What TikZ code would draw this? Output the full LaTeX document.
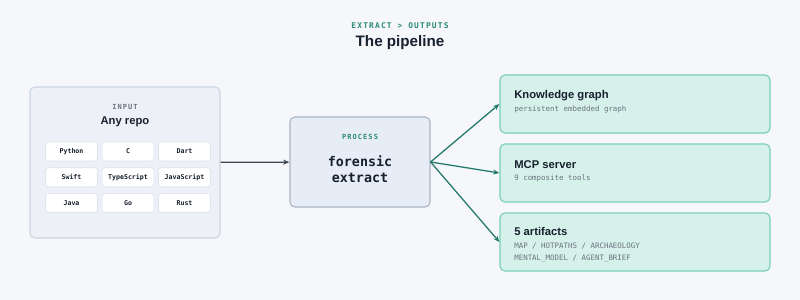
\documentclass[tikz,border=0pt]{standalone}
\usepackage{fontspec}
\setmainfont{Liberation Sans}
\setmonofont{DejaVu Sans Mono}
\newfontfamily\spacedmono[LetterSpace=15]{DejaVu Sans Mono}
\usetikzlibrary{arrows.meta}
\definecolor{PipeBg}{HTML}{F5F7FA}
\definecolor{PipeInk}{HTML}{17202E}
\definecolor{PipeMuted}{HTML}{6B7480}
\definecolor{PipeTeal}{HTML}{2B8A76}
\definecolor{PipeFlow}{HTML}{23786A}
\definecolor{PipeArrow}{HTML}{3D4754}
\definecolor{InputFill}{HTML}{EDF1F7}
\definecolor{InputLine}{HTML}{CDD5DF}
\definecolor{ChipLine}{HTML}{DFE4EB}
\definecolor{ProcFill}{HTML}{E6EDF6}
\definecolor{ProcLine}{HTML}{A9B6C6}
\definecolor{OutFill}{HTML}{D6F1EA}
\definecolor{OutLine}{HTML}{7ACDBB}

\begin{document}
\begin{tikzpicture}[x=0.025cm,y=-0.025cm,
    inputbox/.style={draw=InputLine,fill=InputFill,line width=0.8pt,rounded corners=3.5pt,minimum width=4.75cm,minimum height=3.775cm},
    chip/.style={draw=ChipLine,fill=white,line width=0.5pt,rounded corners=2pt,minimum width=1.3cm,minimum height=0.475cm,inner sep=0pt,
      text=PipeInk,font=\ttfamily\bfseries\fontsize{4.7}{5}\selectfont},
    procbox/.style={draw=ProcLine,fill=ProcFill,line width=0.8pt,rounded corners=3.5pt,minimum width=3.5cm,minimum height=2.25cm},
    outbox/.style={draw=OutLine,fill=OutFill,line width=0.8pt,rounded corners=3.5pt,minimum width=6.75cm,minimum height=1.45cm},
    kicker/.style={inner sep=0pt,font=\spacedmono\bfseries\fontsize{5}{6}\selectfont},
    heading/.style={inner sep=0pt,text=PipeInk,font=\bfseries\fontsize{8}{9.6}\selectfont},
    detail/.style={inner sep=0pt,anchor=west,align=left,text=PipeMuted,font=\ttfamily\fontsize{5.3}{8.5}\selectfont},
    flow/.style={draw=PipeFlow,line width=0.9pt,-{Stealth[length=4.5pt,width=3.6pt]}}]
  \fill[PipeBg] (0,0) rectangle (800,300);
  \useasboundingbox (0,0) rectangle (800,300);

  \node[kicker,text=PipeTeal,font=\spacedmono\bfseries\fontsize{5.6}{6.5}\selectfont] (kick) at (400,26) {EXTRACT > OUTPUTS};
  \node[inner sep=0pt,text=PipeInk,font=\bfseries\fontsize{10.8}{13}\selectfont] (title) at (400,43) {The pipeline};

  \node[inputbox] (input) at (125,162.5) {};
  \node[kicker,text=PipeMuted] (inputtag) at (125,107) {INPUT};
  \node[heading] (repo) at (125,122) {Any repo};
  \foreach \lang [count=\i from 0] in {Python,C,Dart,Swift,TypeScript,JavaScript,Java,Go,Rust} {
    \pgfmathtruncatemacro\col{mod(\i,3)}
    \pgfmathtruncatemacro\row{div(\i,3)}
    \node[chip] (lang-\i) at (71.5+56.5*\col,151.5+25.75*\row) {\lang};
  }

  \node[procbox] (process) at (360,162) {};
  \node[kicker,text=PipeTeal] (proctag) at (360,137) {PROCESS};
  \node[inner sep=0pt,align=center,text=PipeInk,font=\ttfamily\bfseries\fontsize{9.5}{11.4}\selectfont] (procname) at (360,169) {forensic\\extract};

  \node[outbox] (graph) at (635,104) {};
  \node[heading,anchor=west] (graphname) at (514,96) {Knowledge graph};
  \node[detail] (graphnote) at (514,109) {persistent embedded graph};

  \node[outbox] (mcp) at (635,173) {};
  \node[heading,anchor=west] (mcpname) at (514,165) {MCP server};
  \node[detail] (mcpnote) at (514,178) {9 composite tools};

  \node[outbox] (files) at (635,242) {};
  \node[heading,anchor=west] (filesname) at (514,231) {5 artifacts};
  \node[detail] (filesnote) at (514,253) {MAP / HOTPATHS / ARCHAEOLOGY\\MENTAL\_MODEL / AGENT\_BRIEF};

  \draw[flow,draw=PipeArrow] (input) -- (process);
  \draw[flow] (process.east) -- (graph.west);
  \draw[flow] (process.east) -- (mcp.west);
  \draw[flow] (process.east) -- (files.west);
\end{tikzpicture}
\end{document}
